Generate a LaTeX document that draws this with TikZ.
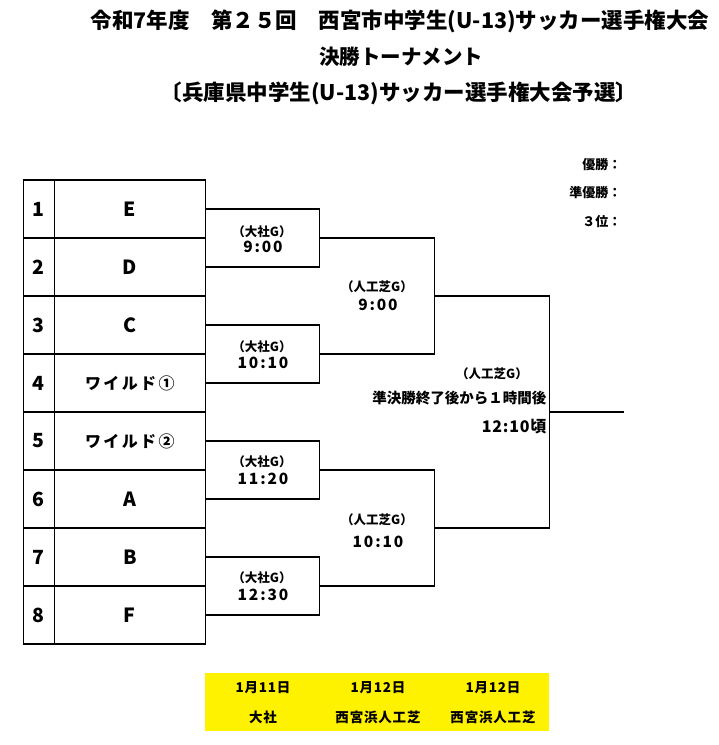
\documentclass[tikz,border=0pt]{standalone}
\usepackage{fontspec}
\setmainfont{Noto Sans CJK JP}
\newcommand{\fsz}[1]{\fontsize{#1}{#1}\selectfont}
\newcommand{\lsp}[1]{\addfontfeature{LetterSpace=#1}}
\begin{document}
\begin{tikzpicture}[x=1pt,y=-1pt,line width=1.2pt,
  every node/.style={inner sep=0pt,font=\bfseries},
  numcell/.style={draw,minimum width=30.8pt,minimum height=58pt,font=\bfseries\fsz{19.5}},
  teamcell/.style={draw,minimum width=151pt,minimum height=58pt,font=\bfseries\fsz{19.5}},
  wildtxt/.style={font=\bfseries\fsz{16}\lsp{15}},
  venue/.style={font=\bfseries\fsz{12.5}},
  timetxt/.style={font=\bfseries\fsz{15.5}\lsp{12}},
  titletxt/.style={font=\bfseries\fsz{20.5}},
  resulttxt/.style={anchor=east,font=\bfseries\fsz{13}},
  yelltxt/.style={font=\bfseries\fsz{13.5}\lsp{6}}]
\useasboundingbox (0,0) rectangle (719,745);

% titles
\node[titletxt,font=\bfseries\fsz{21.5}] (t1) at (400,21) {令和7年度　第２５回　西宮市中学生(U-13)サッカー選手権大会};
\node[titletxt] (t2) at (401,57) {決勝トーナメント};
\node[titletxt,font=\bfseries\fsz{21.5}] (t3) at (399,93) {〔兵庫県中学生(U-13)サッカー選手権大会予選〕};

% results
\node[resulttxt] (r1) at (622,165) {優勝：};
\node[resulttxt] (r2) at (622,193) {準優勝：};
\node[resulttxt] (r3) at (622,222) {３位：};

% table
\foreach \i/\t in {1/E,2/D,3/C,4/{},5/{},6/A,7/B,8/F}{
  \node[numcell] (n\i) at (38.9,{209+58*(\i-1)}) {\i};
  \node[teamcell] (e\i) at (129.8,{209+58*(\i-1)}) {\t};
}
\node[wildtxt] (w1) at (e4) {ワイルド①};
\node[wildtxt] (w2) at (e5) {ワイルド②};

% coordinates
\coordinate (q1) at (319.3,238);
\coordinate (q2) at (319.3,354);
\coordinate (q3) at (319.3,470);
\coordinate (q4) at (319.3,586);
\coordinate (p1) at (434.3,296);
\coordinate (p2) at (434.3,528);
\coordinate (fw) at (549.3,412);
\coordinate (fo) at (624,412);

% first round
\draw (e1.east) -| (q1) |- (e2.east);
\draw (e3.east) -| (q2) |- (e4.east);
\draw (e5.east) -| (q3) |- (e6.east);
\draw (e7.east) -| (q4) |- (e8.east);
% semifinals
\draw (q1) -| (p1) |- (q2);
\draw (q3) -| (p2) |- (q4);
% final
\draw (p1) -| (fw) |- (p2);
\draw (fw) -- (fo);

% match labels
\node[venue] (v1) at (262,232) {（大社G）};
\node[timetxt] (m1) at (263,247) {9:00};
\node[venue] (v2) at (262,347) {（大社G）};
\node[timetxt] (m2) at (263,363) {10:10};
\node[venue] (v3) at (262,462) {（大社G）};
\node[timetxt] (m3) at (263,479) {11:20};
\node[venue] (v4) at (262,578) {（大社G）};
\node[timetxt] (m4) at (263,595) {12:30};
\node[venue] (v5) at (377,287) {（人工芝G）};
\node[timetxt] (m5) at (378,305) {9:00};
\node[venue] (v6) at (377,520) {（人工芝G）};
\node[timetxt] (m6) at (378,542) {10:10};
\node[venue] (v7) at (492,374) {（人工芝G）};
\node[anchor=east,font=\bfseries\fsz{14.5}] (m7) at (547,398) {準決勝終了後から１時間後};
\node[anchor=east,font=\bfseries\fsz{16}\lsp{5}] (m8) at (547,427) {12:10頃};

% yellow legend
\node[fill=yellow,minimum width=344pt,minimum height=58pt] (yb) at (377,702) {};
\node[yelltxt] (d1) at (263,688) {1月11日};
\node[yelltxt] (d2) at (378,688) {1月12日};
\node[yelltxt] (d3) at (493,688) {1月12日};
\node[yelltxt] (g1) at (263,717) {大社};
\node[yelltxt] (g2) at (378,717) {西宮浜人工芝};
\node[yelltxt] (g3) at (493,717) {西宮浜人工芝};
\end{tikzpicture}
\end{document}
